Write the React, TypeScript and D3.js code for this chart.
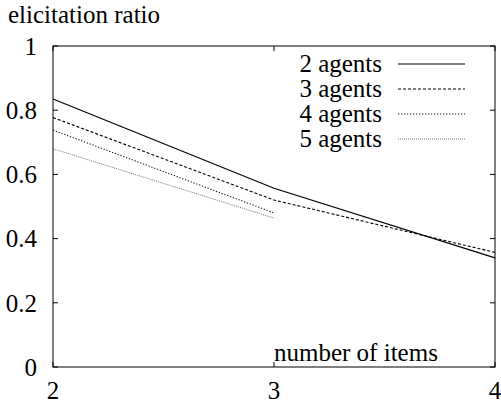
import React from "react";
import * as d3 from "d3";

const items2 = [2, 3, 4];
const agents2 = [0.835, 0.557, 0.34];
const items3 = [2, 3, 4];
const agents3 = [0.777, 0.52, 0.357];
const items4 = [2, 3];
const agents4 = [0.738, 0.48];
const items5 = [2, 3];
const agents5 = [0.68, 0.464];
const xTicks = [2, 3, 4];
const yTicks = [0, 0.2, 0.4, 0.6, 0.8, 1];
const yTickLabels = ["0", "0.2", "0.4", "0.6", "0.8", "1"];
const legendLabels = ["2 agents", "3 agents", "4 agents", "5 agents"];

const W = 501, H = 409;
const L = 53, R = 495, T = 46, B = 367;
const FS = 25;
const txt: React.CSSProperties = { fontFamily: `"Liberation Serif"`, fontSize: FS };

export default function App() {
  const x = d3.scaleLinear().domain([2, 4]).range([L, R]);
  const y = d3.scaleLinear().domain([0, 1]).range([B, T]);
  const line = d3.line<[number, number]>().x(d => x(d[0])).y(d => y(d[1]));
  const series = [
    { xs: items2, ys: agents2, stroke: "#000", dash: undefined as string | undefined, w: 1.2 },
    { xs: items3, ys: agents3, stroke: "#000", dash: "3,2", w: 1.1 },
    { xs: items4, ys: agents4, stroke: "#222", dash: "1.3,1.7", w: 1.1 },
    { xs: items5, ys: agents5, stroke: "#777", dash: "1,1", w: 1 },
  ];
  const tl = 5;
  return (
    <svg width={W} height={H} style={{ position: "absolute", left: 0, top: 0 }}>
      <rect x={0} y={0} width={W} height={H} fill="#fff" />
      <text x={8} y={23} style={txt}>elicitation ratio</text>
      {series.map((s, i) => (
        <path key={i} d={line(s.xs.map((v, j) => [v, s.ys[j]] as [number, number])) || ""}
          fill="none" stroke={s.stroke} strokeWidth={s.w} strokeDasharray={s.dash} />
      ))}
      <rect x={L} y={T} width={R - L} height={B - T} fill="none" stroke="#000" strokeWidth={1} />
      {yTicks.map((t, i) => (
        <g key={"y" + i}>
          <line x1={L} x2={L + tl} y1={y(t)} y2={y(t)} stroke="#000" />
          <line x1={R} x2={R - tl} y1={y(t)} y2={y(t)} stroke="#000" />
          <text x={37} y={y(t)} dy="0.35em" textAnchor="end" style={txt}>{yTickLabels[i]}</text>
        </g>
      ))}
      {xTicks.map((t, i) => (
        <g key={"x" + i}>
          <line x1={x(t)} x2={x(t)} y1={B} y2={B - tl} stroke="#000" />
          <line x1={x(t)} x2={x(t)} y1={T} y2={T + tl} stroke="#000" />
          <text x={x(t)} y={399} textAnchor="middle" style={txt}>{String(t)}</text>
        </g>
      ))}
      <text x={274} y={361} style={txt}>number of items</text>
      {legendLabels.map((lab, i) => {
        const ly = 64 + i * 25;
        const s = series[i];
        return (
          <g key={"l" + i}>
            <text x={382} y={ly + 8} textAnchor="end" style={txt}>{lab}</text>
            <line x1={398} x2={465} y1={ly} y2={ly} stroke={s.stroke} strokeWidth={s.w} strokeDasharray={s.dash} />
          </g>
        );
      })}
    </svg>
  );
}
